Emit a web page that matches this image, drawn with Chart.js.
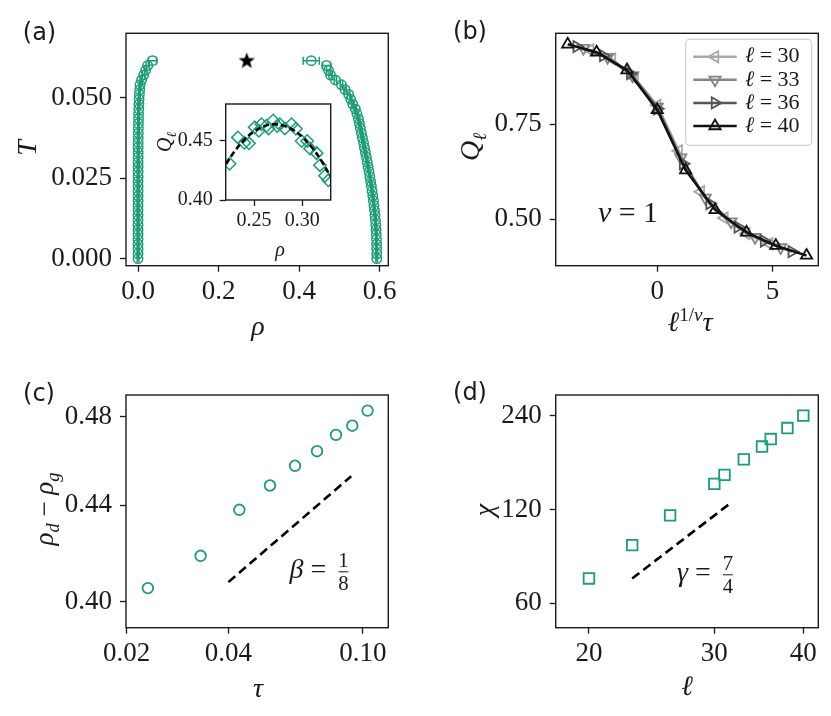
<!DOCTYPE html>
<html>
<head>
<meta charset="utf-8">
<script src="https://cdn.jsdelivr.net/npm/chart.js@4.4.1/dist/chart.umd.min.js"></script>
<style>
  html, body { margin: 0; padding: 0; background: #fff; }
  #fig { position: relative; width: 831px; height: 716px; overflow: hidden; background: #fff; }
  #fig canvas { position: absolute; }
  .lbl { position: absolute; transform: translate(-50%, -50%); white-space: nowrap;
         font-family: "Liberation Serif", "DejaVu Serif", serif; color: #1a1a1a; line-height: 1; }
  .lbl.rot { transform: translate(-50%, -50%) rotate(-90deg); }
  .lbl.panel { font-family: "DejaVu Sans", sans-serif; }
  .frac { display: inline-flex; flex-direction: column; align-items: center; vertical-align: middle;
          font-size: 0.74em; line-height: 1.0; margin-left: 5px; }
  .frac span + span { border-top: 1.3px solid #1a1a1a; padding-top: 1px; }
  sub, sup { font-size: 0.68em; line-height: 0; }
</style>
</head>
<body>
<div id="fig">
  <canvas id="cvA" width="415" height="312" style="left:0;top:0"></canvas>
  <canvas id="cvIn" width="175" height="150" style="left:165px;top:85px"></canvas>
  <canvas id="cvB" width="411" height="312" style="left:420px;top:0"></canvas>
  <canvas id="cvC" width="415" height="320" style="left:0;top:360px"></canvas>
  <canvas id="cvD" width="411" height="320" style="left:420px;top:360px"></canvas>
</div>
<script>
// === Dados ===
// (a) curva de coexistência: temperatura e as duas densidades
const tempsA = [0.0000, 0.0015, 0.0030, 0.0045, 0.0060, 0.0075, 0.0090, 0.0105, 0.0120, 0.0135,
                0.0150, 0.0165, 0.0180, 0.0195, 0.0210, 0.0225, 0.0240, 0.0255, 0.0270, 0.0285,
                0.0300, 0.0315, 0.0330, 0.0345, 0.0360, 0.0375, 0.0390, 0.0405, 0.0420, 0.0435,
                0.0450, 0.0465, 0.0480, 0.0495, 0.0510, 0.0525, 0.0540, 0.0555, 0.0570, 0.0585,
                0.0600, 0.0615];
const rhoGas = [0.0001, 0.0001, 0.0001, 0.0001, 0.0001, 0.0001, 0.0001, 0.0001, 0.0001, 0.0001,
                0.0001, 0.0001, 0.0002, 0.0002, 0.0002, 0.0002, 0.0002, 0.0003, 0.0003, 0.0003,
                0.0003, 0.0004, 0.0004, 0.0005, 0.0005, 0.0006, 0.0008, 0.0009, 0.0011, 0.0013,
                0.0015, 0.0018, 0.0022, 0.0027, 0.0033, 0.0042, 0.0050, 0.0090, 0.0140, 0.0190,
                0.0240, 0.0360];
const errGas = [0.002, 0.002, 0.002, 0.002, 0.002, 0.002, 0.002, 0.002, 0.002, 0.002,
                0.002, 0.002, 0.002, 0.002, 0.002, 0.002, 0.002, 0.002, 0.002, 0.002,
                0.002, 0.002, 0.002, 0.002, 0.002, 0.002, 0.002, 0.002, 0.002, 0.002,
                0.002, 0.002, 0.002, 0.002, 0.002, 0.002, 0.002, 0.002, 0.003, 0.003,
                0.004, 0.010];
const rhoDense = [0.5927, 0.5926, 0.5925, 0.5923, 0.5920, 0.5915, 0.5910, 0.5902, 0.5893, 0.5882,
                  0.5870, 0.5857, 0.5843, 0.5828, 0.5810, 0.5793, 0.5775, 0.5755, 0.5735, 0.5712,
                  0.5690, 0.5668, 0.5645, 0.5620, 0.5598, 0.5570, 0.5545, 0.5520, 0.5495, 0.5470,
                  0.5435, 0.5395, 0.5330, 0.5280, 0.5230, 0.5140, 0.5050, 0.4900, 0.4780, 0.4730,
                  0.4680, 0.4300];
const errDense = [0.002, 0.002, 0.002, 0.002, 0.002, 0.002, 0.002, 0.002, 0.002, 0.002,
                  0.002, 0.002, 0.002, 0.002, 0.002, 0.002, 0.002, 0.002, 0.002, 0.002,
                  0.002, 0.002, 0.002, 0.002, 0.002, 0.002, 0.002, 0.002, 0.002, 0.002,
                  0.002, 0.002, 0.002, 0.002, 0.003, 0.003, 0.003, 0.003, 0.004, 0.005,
                  0.010, 0.020];
const critRho = [0.27];
const critT = [0.0617];
const ticksAx = [0, 0.2, 0.4, 0.6];
const labelsAx = ['0.0', '0.2', '0.4', '0.6'];
const ticksAy = [0, 0.025, 0.05];
const labelsAy = ['0.000', '0.025', '0.050'];

// (a) inset: Q_l em função de rho, com o ajuste parabólico
const rhoIn = [0.2247, 0.2334, 0.2400, 0.2448, 0.2507, 0.2550, 0.2577, 0.2629, 0.2650, 0.2698,
               0.2740, 0.2767, 0.2820, 0.2889, 0.2934, 0.2993, 0.3051, 0.3080, 0.3149, 0.3183,
               0.3235, 0.3270];
const qIn = [0.4304, 0.4525, 0.4480, 0.4475, 0.4609, 0.4580, 0.4635, 0.4622, 0.4600, 0.4667,
             0.4620, 0.4635, 0.4600, 0.4635, 0.4597, 0.4495, 0.4495, 0.4431, 0.4393, 0.4292,
             0.4203, 0.4165];
const rhoFit = [0.221, 0.230, 0.240, 0.250, 0.260, 0.270, 0.280, 0.290, 0.300, 0.310, 0.320, 0.329];
const qFit = [0.4300, 0.4409, 0.4505, 0.4574, 0.4618, 0.4635, 0.4625, 0.4590, 0.4528, 0.4440, 0.4326, 0.4200];
const ticksInX = [0.25, 0.30];
const labelsInX = ['0.25', '0.30'];
const ticksInY = [0.40, 0.45];
const labelsInY = ['0.40', '0.45'];

// (b) colapso de Q_l para cada tamanho
const sizes = [30, 33, 36, 40];
const x30 = [-2.91, -1.96, -0.98, 0.00, 0.93, 1.89, 2.91, 3.86, 4.86];
const q30 = [0.946, 0.922, 0.872, 0.800, 0.680, 0.572, 0.503, 0.462, 0.435];
const x33 = [-3.20, -2.15, -1.07, 0.00, 1.02, 2.08, 3.20, 4.24, 5.35];
const q33 = [0.951, 0.927, 0.878, 0.796, 0.662, 0.556, 0.493, 0.452, 0.425];
const x36 = [-3.49, -2.34, -1.17, 0.00, 1.12, 2.27, 3.49, 4.63, 5.83];
const q36 = [0.955, 0.931, 0.884, 0.791, 0.646, 0.541, 0.479, 0.442, 0.414];
const x40 = [-3.88, -2.63, -1.31, 0.00, 1.23, 2.51, 3.87, 5.14, 6.47];
const q40 = [0.961, 0.940, 0.893, 0.788, 0.629, 0.524, 0.465, 0.430, 0.404];
const ticksBx = [0, 5];
const labelsBx = ['0', '5'];
const ticksBy = [0.5, 0.75];
const labelsBy = ['0.50', '0.75'];

// (c) parâmetro de ordem vs tau (log-log)
const tauC = [0.0231, 0.0331, 0.0431, 0.0531, 0.0630, 0.0732, 0.0833, 0.0931, 0.1033];
const gapC = [0.4055, 0.4186, 0.4380, 0.4486, 0.4574, 0.4640, 0.4715, 0.4758, 0.4829];
const tauFitC = [0.040, 0.0924];
const gapFitC = [0.4079, 0.4527];
const ticksCx = [0.02, 0.04, 0.10];
const labelsCx = ['0.02', '0.04', '0.10'];
const ticksCy = [0.40, 0.44, 0.48];
const labelsCy = ['0.40', '0.44', '0.48'];

// (d) susceptibilidade vs l (log-log)
const ellD = [20, 23, 26, 30, 31, 33, 35, 36, 38, 40];
const chiD = [72.1, 92.2, 114.9, 145, 155, 173.8, 191, 201.9, 219, 240];
const ellFitD = [23, 31.5];
const chiFitD = [72.1, 125];
const ticksDx = [20, 30, 40];
const labelsDx = ['20', '30', '40'];
const ticksDy = [60, 120, 240];
const labelsDy = ['60', '120', '240'];

// === Estilo ===
const SERIF = '"Liberation Serif", "DejaVu Serif", serif';
const GREEN = '#1b9e77';
const INK = '#1a1a1a';
const GREYS = ['#a8a8a8', '#858585', '#555555', '#111111'];
const CLEAR = 'rgba(0,0,0,0)';

const pts = (xs, ys) => xs.map((x, i) => ({ x, y: ys[i] }));

function axis(pos, type, min, max, ticks, labels, size, font, pad) {
  return {
    type, position: pos, min, max,
    afterBuildTicks: s => { s.ticks = ticks.map(v => ({ value: v })); },
    afterFit: s => { if (pos === 'left') s.width = size; else s.height = size; },
    ticks: { autoSkip: false, maxRotation: 0, padding: pad, color: INK,
             font: { family: SERIF, size: font }, callback: (v, i) => labels[i] },
    grid: { drawOnChartArea: false, drawTicks: true, tickLength: 6, tickWidth: 1.3, tickColor: INK },
    border: { display: false }
  };
}

// moldura completa (quatro lados) e fundo branco opcional
const frame = {
  id: 'frame',
  beforeDraw(chart, args, opts) {
    if (!opts || !opts.fill) return;
    const a = chart.chartArea, ctx = chart.ctx;
    ctx.save(); ctx.fillStyle = '#fff';
    ctx.fillRect(a.left, a.top, a.right - a.left, a.bottom - a.top); ctx.restore();
  },
  afterDraw(chart) {
    const a = chart.chartArea, ctx = chart.ctx;
    ctx.save(); ctx.strokeStyle = INK; ctx.lineWidth = 1.4;
    ctx.strokeRect(a.left, a.top, a.right - a.left, a.bottom - a.top); ctx.restore();
  }
};

// barras de erro horizontais
const errorBars = {
  id: 'errorBars',
  afterDatasetsDraw(chart) {
    const { ctx, scales: { x, y } } = chart;
    chart.data.datasets.forEach(ds => {
      if (!ds.xErr) return;
      ctx.save(); ctx.strokeStyle = ds.borderColor; ctx.lineWidth = 1.5;
      ds.data.forEach((p, i) => {
        const e = ds.xErr[i], py = y.getPixelForValue(p.y);
        const x0 = x.getPixelForValue(p.x - e), x1 = x.getPixelForValue(p.x + e);
        ctx.beginPath();
        ctx.moveTo(x0, py); ctx.lineTo(x1, py);
        ctx.moveTo(x0, py - 4); ctx.lineTo(x0, py + 4);
        ctx.moveTo(x1, py - 4); ctx.lineTo(x1, py + 4);
        ctx.stroke();
      });
      ctx.restore();
    });
  }
};

function triangle(ctx, x, y, r, rotDeg) {
  let a = rotDeg * Math.PI / 180;
  ctx.beginPath();
  for (let k = 0; k < 3; k++) {
    ctx.lineTo(x + Math.sin(a) * r, y - Math.cos(a) * r);
    a += 2 * Math.PI / 3;
  }
  ctx.closePath();
}

// legenda do painel (b), desenhada dentro da área do gráfico
const sizeLegend = {
  id: 'sizeLegend',
  afterDraw(chart) {
    const { ctx, chartArea: a } = chart;
    const w = 126, h = 106, x0 = a.right - 6.6 - w, y0 = a.top + 6;
    ctx.save();
    ctx.beginPath(); ctx.roundRect(x0, y0, w, h, 4);
    ctx.fillStyle = 'rgba(255,255,255,0.8)'; ctx.fill();
    ctx.strokeStyle = '#d2d2d2'; ctx.lineWidth = 1.2; ctx.stroke();
    sizes.forEach((L, i) => {
      const ds = chart.data.datasets[i], yy = y0 + 17.4 + i * 23.1;
      ctx.strokeStyle = ds.borderColor; ctx.lineWidth = 2.5;
      ctx.beginPath(); ctx.moveTo(x0 + 7.6, yy); ctx.lineTo(x0 + 51, yy); ctx.stroke();
      ctx.lineWidth = 1.8; triangle(ctx, x0 + 29.3, yy, 6.5, ds.pointRotation); ctx.stroke();
      ctx.fillStyle = INK; ctx.textBaseline = 'middle'; ctx.textAlign = 'left';
      ctx.font = 'italic 22px ' + SERIF; ctx.fillText('ℓ', x0 + 59.3, yy);
      const wl = ctx.measureText('ℓ').width;
      ctx.font = '22px ' + SERIF; ctx.fillText(' = ' + L, x0 + 59.3 + wl, yy);
    });
    ctx.restore();
  }
};

// estrela preenchida para o ponto crítico
function starMarker(size) {
  const c = document.createElement('canvas');
  c.width = c.height = size;
  const g = c.getContext('2d'), R = size / 2, r = R * 0.42;
  g.beginPath();
  for (let k = 0; k < 10; k++) {
    const ang = -Math.PI / 2 + k * Math.PI / 5, rr = k % 2 ? r : R;
    g.lineTo(R + rr * Math.cos(ang), R + 1 + rr * Math.sin(ang));
  }
  g.closePath(); g.fillStyle = '#000'; g.fill();
  return c;
}

function panel(id, datasets, x, y, pad, plugins, pluginOpts) {
  return new Chart(document.getElementById(id), {
    type: 'scatter',
    data: { datasets },
    options: {
      responsive: false, animation: false, events: [],
      layout: { padding: pad },
      scales: { x, y },
      plugins: Object.assign({ legend: { display: false }, tooltip: { enabled: false } }, pluginOpts || {})
    },
    plugins: [frame].concat(plugins || [])
  });
}

// === Painel (a) ===
const hollowCircle = { pointStyle: 'circle', pointRadius: 4.7, pointBorderWidth: 1.5,
  borderColor: GREEN, pointBorderColor: GREEN, backgroundColor: CLEAR, pointBackgroundColor: CLEAR };
panel('cvA', [
  Object.assign({ data: pts(rhoGas, tempsA), xErr: errGas }, hollowCircle),
  Object.assign({ data: pts(rhoDense, tempsA), xErr: errDense }, hollowCircle),
  { data: pts(critRho, critT), pointStyle: starMarker(17), pointRadius: 8 }
],
  axis('bottom', 'linear', -0.0298, 0.6213, ticksAx, labelsAx, 46.3, 27, 4),
  axis('left', 'linear', -0.0022, 0.0700, ticksAy, labelsAy, 126, 27, 8),
  { top: 33.3, right: 26.7, left: 0, bottom: 0 }, [errorBars]);

// === Inset ===
panel('cvIn', [
  { data: pts(rhoFit, qFit), showLine: true, borderColor: '#000', borderWidth: 2.6,
    borderDash: [6, 3], tension: 0.4, pointRadius: 0 },
  { data: pts(rhoIn, qIn), pointStyle: 'rectRot', pointRadius: 6.2, pointBorderWidth: 1.5,
    pointBorderColor: GREEN, borderColor: GREEN, backgroundColor: CLEAR, pointBackgroundColor: CLEAR }
],
  axis('bottom', 'linear', 0.2207, 0.3294, ticksInX, labelsInX, 35, 20, 3),
  axis('left', 'linear', 0.40, 0.4805, ticksInY, labelsInY, 60.7, 20, 7),
  { top: 8.7, right: 9.3, left: 0, bottom: 0 }, [], { frame: { fill: true } });

// === Painel (b) ===
const collapse = [[x30, q30, 270], [x33, q33, 180], [x36, q36, 90], [x40, q40, 0]];
panel('cvB', collapse.map(([xs, qs, rot], i) => ({
  data: pts(xs, qs), showLine: true, borderColor: GREYS[i], borderWidth: 2.5,
  pointStyle: 'triangle', pointRotation: rot, pointRadius: 6.5, pointBorderWidth: 1.8,
  pointBorderColor: GREYS[i], backgroundColor: CLEAR, pointBackgroundColor: CLEAR,
  order: collapse.length - i
})),
  axis('bottom', 'linear', -4.40, 6.98, ticksBx, labelsBx, 46.3, 27, 4),
  axis('left', 'linear', 0.377, 0.990, ticksBy, labelsBy, 135.7, 27, 8),
  { top: 33.3, right: 12.7, left: 0, bottom: 0 }, [sizeLegend]);

// === Painel (c) ===
panel('cvC', [
  { data: pts(tauFitC, gapFitC), showLine: true, borderColor: '#000', borderWidth: 2.6,
    borderDash: [9, 5], pointRadius: 0 },
  { data: pts(tauC, gapC), pointStyle: 'circle', pointRadius: 5.3, pointBorderWidth: 1.8,
    pointBorderColor: GREEN, borderColor: GREEN, backgroundColor: CLEAR, pointBackgroundColor: CLEAR }
],
  axis('bottom', 'logarithmic', 0.0199, 0.119, ticksCx, labelsCx, 52.3, 27, 4),
  axis('left', 'logarithmic', 0.3902, 0.4904, ticksCy, labelsCy, 126, 27, 8),
  { top: 35, right: 26.7, left: 0, bottom: 0 });

// === Painel (d) ===
panel('cvD', [
  { data: pts(ellFitD, chiFitD), showLine: true, borderColor: '#000', borderWidth: 2.6,
    borderDash: [9, 5], pointRadius: 0 },
  { data: pts(ellD, chiD), pointStyle: 'rect', pointRadius: 7.5, pointBorderWidth: 1.8,
    pointBorderColor: GREEN, borderColor: GREEN, backgroundColor: CLEAR, pointBackgroundColor: CLEAR }
],
  axis('bottom', 'logarithmic', 17.96, 41.99, ticksDx, labelsDx, 52.3, 27, 4),
  axis('left', 'logarithmic', 50.1, 279.6, ticksDy, labelsDy, 135.7, 27, 8),
  { top: 35, right: 12.7, left: 0, bottom: 0 });

// === Textos: rótulos de painel, títulos dos eixos e anotações ===
function note(html, x, y, size, cls) {
  const d = document.createElement('div');
  d.className = 'lbl' + (cls ? ' ' + cls : '');
  d.style.left = x + 'px'; d.style.top = y + 'px'; d.style.fontSize = size + 'px';
  d.innerHTML = html;
  document.getElementById('fig').appendChild(d);
}
note('(a)', 39.5, 31.5, 24, 'panel');
note('(b)', 470, 30.5, 24, 'panel');
note('(c)', 39, 392.5, 24, 'panel');
note('(d)', 470, 392, 24, 'panel');

note('<i>ρ</i>', 258, 326, 28);
note('<i>T</i>', 27, 148, 28, 'rot');
note('<i>Q</i><sub><i>ℓ</i></sub>', 164, 142, 20, 'rot');
note('<i>ρ</i>', 280, 249, 20);
note('<i>Q</i><sub><i>ℓ</i></sub>', 470, 147, 28, 'rot');
note('<i>ℓ</i><sup>1/<i>ν</i></sup><i>τ</i>', 690, 322, 28);
note('<i>ν</i> = 1', 628, 212, 30);

note('<i>ρ</i><sub><i>d</i></sub> − <i>ρ</i><sub><i>g</i></sub>', 44, 509, 27, 'rot');
note('<i>τ</i>', 258, 688, 28);
note('<i>β</i> = <span class="frac"><span>1</span><span>8</span></span>', 319, 572, 28);

note('<i>χ</i>', 484, 510, 28, 'rot');
note('<i>ℓ</i>', 687, 686, 28);
note('<i>γ</i> = <span class="frac"><span>7</span><span>4</span></span>', 705, 575, 28);
</script>
</body>
</html>
